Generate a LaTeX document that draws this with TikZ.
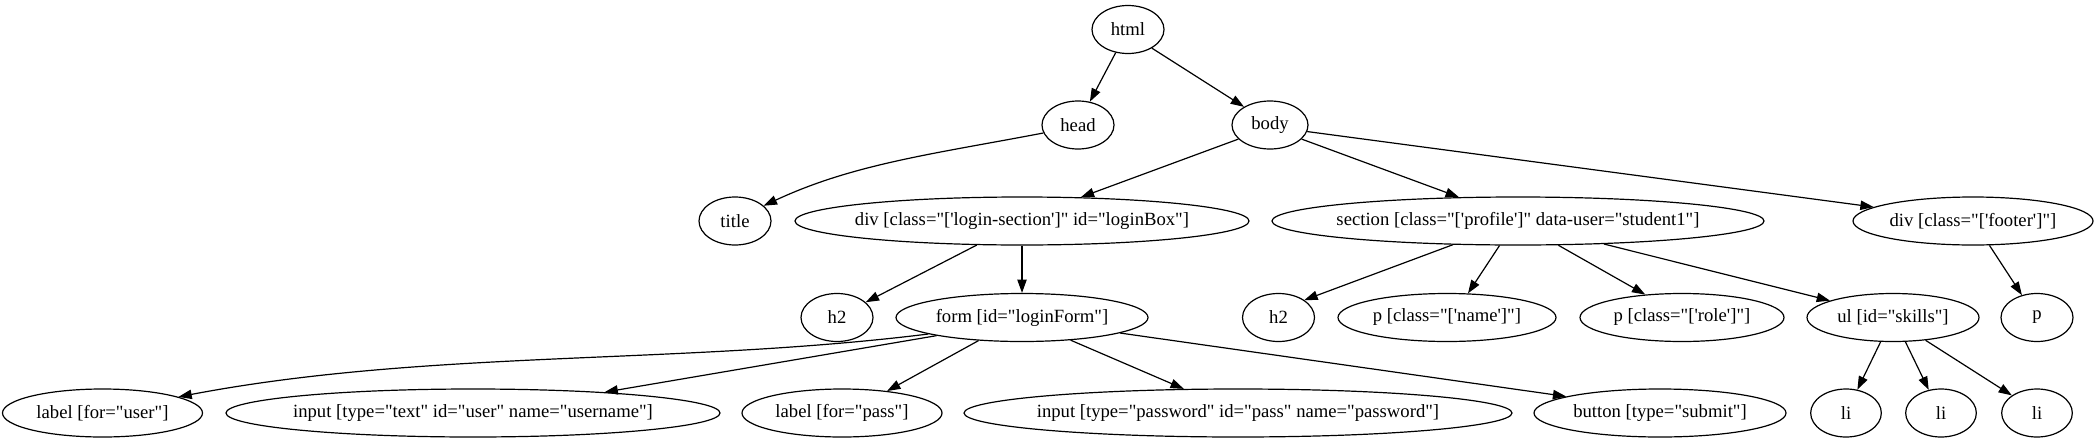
\documentclass[tikz,border=0pt]{standalone}
\usepackage{fontspec}
\setmainfont{Liberation Serif}[Ligatures=TeXOff]
\usetikzlibrary{arrows.meta,shapes.geometric}
\tikzset{
  nd/.style={draw, ellipse, line width=0.9pt, inner sep=-60pt, minimum height=36pt, font=\fontsize{14}{16}\selectfont},
  ed/.style={line width=0.9pt, -{Triangle[length=10pt,width=7pt]}}
}
\begin{document}
\begin{tikzpicture}[x=0.75pt,y=-0.75pt]
\useasboundingbox (0,0) rectangle (2099,443);
% level 0
\node[nd, minimum width=54pt] (html) at (1128,29.5) {html};
% level 1
\node[nd, minimum width=54pt] (head) at (1078,125) {head};
\node[nd, minimum width=57pt] (body) at (1270,125) {body};
% level 2
\node[nd, minimum width=54pt] (title) at (735,221) {title};
\node[nd, minimum width=340.5pt] (divlogin) at (1022,221) {div [class="['login-section']" id="loginBox"]};
\node[nd, minimum width=369pt] (section) at (1518,221) {section [class="['profile']" data-user="student1"]};
\node[nd, minimum width=180pt] (footer) at (1973,221) {div [class="['footer']"]};
% level 3
\node[nd, minimum width=54pt] (h2a) at (837,317.5) {h2};
\node[nd, minimum width=189pt] (form) at (1022,317.5) {form [id="loginForm"]};
\node[nd, minimum width=54pt] (h2b) at (1278.5,317.5) {h2};
\node[nd, minimum width=163.5pt] (pname) at (1447,317.5) {p [class="['name']"]};
\node[nd, minimum width=153pt] (prole) at (1682,317.5) {p [class="['role']"]};
\node[nd, minimum width=129pt] (ul) at (1893,317.5) {ul [id="skills"]};
\node[nd, minimum width=54pt] (p) at (2037,317.5) {p};
% level 4
\node[nd, minimum width=150pt] (luser) at (102.5,413) {label [for="user"]};
\node[nd, minimum width=370.5pt] (itext) at (473,413) {input [type="text" id="user" name="username"]};
\node[nd, minimum width=150pt] (lpass) at (842,413) {label [for="pass"]};
\node[nd, minimum width=411pt] (ipass) at (1238,413) {input [type="password" id="pass" name="password"]};
\node[nd, minimum width=189pt] (button) at (1660,413) {button [type="submit"]};
\node[nd, minimum width=53pt] (li1) at (1846,413) {li};
\node[nd, minimum width=53pt] (li2) at (1941,413) {li};
\node[nd, minimum width=53pt] (li3) at (2037,413) {li};
% edges
\draw[ed] (html.242) -- (head.63);
\draw[ed] (html.322) -- (body.145);
\draw[ed] (head.193) .. controls +(-110,21) and +(90,-42) .. (title.28);
\draw[ed] (body.204) -- (divlogin.22);
\draw[ed] (body.336) -- (section.158);
\draw[ed] (body.350) -- (footer.172);
\draw[ed] (divlogin.208) -- (h2a.28);
\draw[ed] (divlogin.south) -- (form.north);
\draw[ed] (form.190.6) .. controls +(-250,31) and +(250,-47.5) .. (luser.12.6);
\draw[ed] (form.192.6) -- (itext.9.8);
\draw[ed] (form.208.4) -- (lpass.26);
\draw[ed] (form.335.3) -- (ipass.156);
\draw[ed] (form.351.7) -- (button.170.7);
\draw[ed] (section.200.3) -- (h2b.34.3);
\draw[ed] (section.233.2) -- (pname.49.4);
\draw[ed] (section.329.4) -- (prole.148.7);
\draw[ed] (section.345) -- (ul.165.5);
\draw[ed] (footer.304.5) -- (p.124.8);
\draw[ed] (ul.243.6) -- (li1.64.5);
\draw[ed] (ul.297.3) -- (li2.118.5);
\draw[ed] (ul.325.7) -- (li3.145.8);
\end{tikzpicture}
\end{document}
